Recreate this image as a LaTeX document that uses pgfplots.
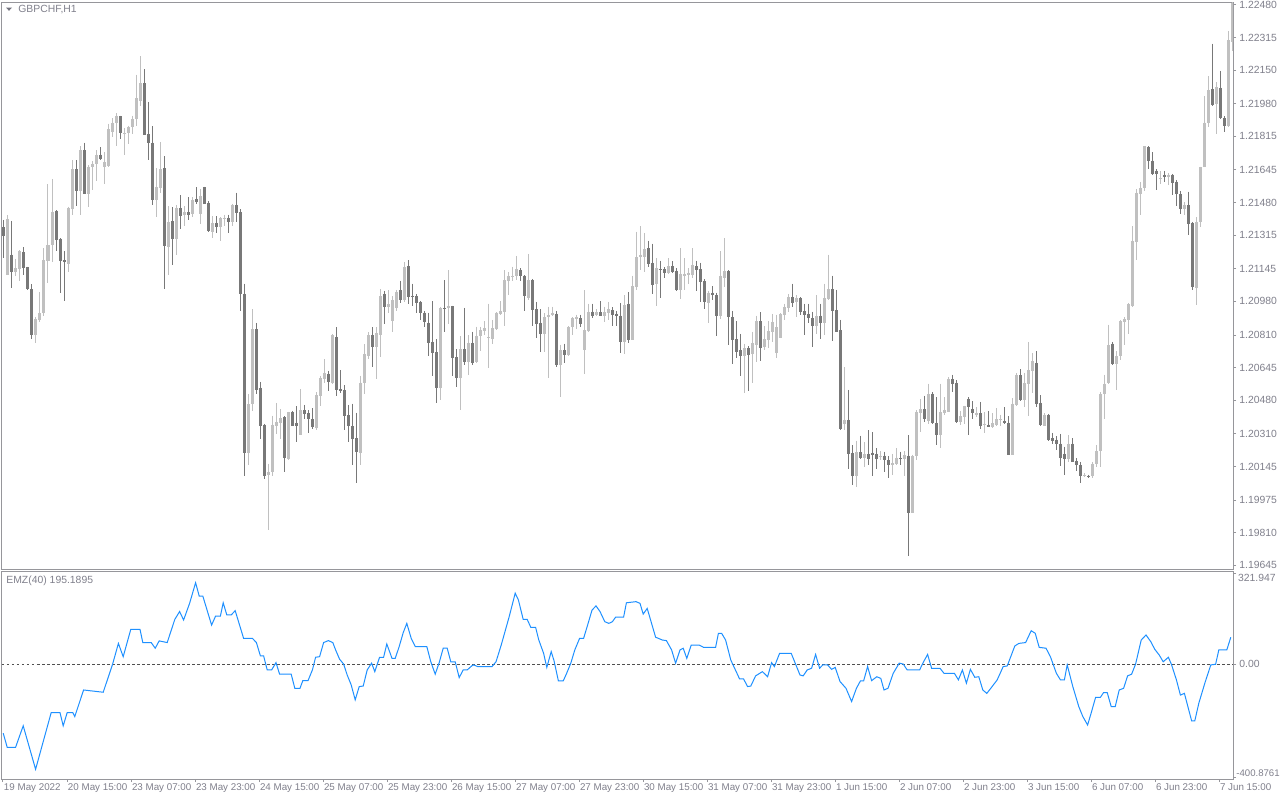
\documentclass[border=0pt]{standalone}
\usepackage{fontspec}
\setmainfont{Liberation Sans}
\usepackage{pgfplots}
\usepackage{pgfplotstable}
\pgfplotsset{compat=1.18}
\definecolor{bullc}{RGB}{192,192,192}
\definecolor{bearc}{RGB}{120,120,120}
\definecolor{framec}{RGB}{150,150,155}
\definecolor{labc}{RGB}{128,128,140}
\definecolor{emzc}{RGB}{30,144,255}
\definecolor{zeroc}{RGB}{80,80,80}
\pgfplotsset{candle/.style={only marks, mark=*, mark size=0pt, mark options={draw opacity=0, fill opacity=0}}}

\pgfplotstableread{
k o h l c
2 1.21116 1.21416 1.21112 1.21397
4 1.21131 1.21195 1.21107 1.21147
5 1.21143 1.21239 1.21085 1.21235
9 1.20809 1.20901 1.20770 1.20889
10 1.20886 1.21027 1.20877 1.20919
11 1.20919 1.21248 1.20904 1.21189
12 1.21184 1.21572 1.21075 1.21263
13 1.21267 1.21600 1.21180 1.21432
17 1.21171 1.21460 1.21131 1.21453
18 1.21447 1.21695 1.21419 1.21649
20 1.21539 1.21765 1.21419 1.21745
22 1.21524 1.21668 1.21460 1.21662
23 1.21662 1.21690 1.21545 1.21677
24 1.21677 1.21745 1.21591 1.21723
26 1.21662 1.21736 1.21576 1.21683
27 1.21664 1.21879 1.21659 1.21852
28 1.21839 1.21907 1.21811 1.21885
29 1.21885 1.21931 1.21765 1.21920
31 1.21828 1.21857 1.21723 1.21832
32 1.21830 1.21870 1.21775 1.21861
33 1.21861 1.21920 1.21828 1.21901
34 1.21903 1.22128 1.21870 1.22008
35 1.21995 1.22220 1.21971 1.22085
39 1.21493 1.21653 1.21407 1.21557
40 1.21554 1.21787 1.21530 1.21649
42 1.21257 1.21462 1.21116 1.21381
44 1.21296 1.21469 1.21217 1.21453
46 1.21419 1.21462 1.21364 1.21432
48 1.21423 1.21506 1.21407 1.21493
50 1.21423 1.21548 1.21373 1.21511
53 1.21333 1.21410 1.21300 1.21377
55 1.21359 1.21406 1.21287 1.21401
56 1.21396 1.21419 1.21364 1.21401
58 1.21383 1.21475 1.21364 1.21469
62 1.20214 1.20512 1.20153 1.20459
63 1.20459 1.20941 1.20426 1.20840
67 1.20100 1.20159 1.19824 1.20119
68 1.20119 1.20402 1.20095 1.20356
69 1.20349 1.20466 1.20310 1.20371
70 1.20365 1.20435 1.20282 1.20389
72 1.20183 1.20422 1.20177 1.20420
75 1.20306 1.20536 1.20303 1.20429
79 1.20339 1.20521 1.20328 1.20505
80 1.20503 1.20604 1.20453 1.20591
81 1.20586 1.20687 1.20569 1.20619
83 1.20569 1.20816 1.20564 1.20809
90 1.20214 1.20604 1.20153 1.20569
91 1.20569 1.20763 1.20509 1.20715
92 1.20705 1.20825 1.20687 1.20809
94 1.20748 1.20849 1.20586 1.20821
95 1.20812 1.21042 1.20698 1.21005
97 1.20950 1.21036 1.20919 1.20965
98 1.20882 1.21005 1.20827 1.20987
99 1.20947 1.21038 1.20932 1.21027
101 1.20987 1.21180 1.20978 1.21153
110 1.20544 1.20954 1.20481 1.20945
112 1.20947 1.21138 1.20867 1.20956
115 1.20595 1.20803 1.20431 1.20739
117 1.20674 1.20809 1.20610 1.20772
119 1.20674 1.20853 1.20670 1.20807
120 1.20803 1.20853 1.20729 1.20836
121 1.20831 1.20882 1.20809 1.20845
122 1.20796 1.20969 1.20641 1.20799
123 1.20788 1.20886 1.20766 1.20845
124 1.20840 1.20926 1.20836 1.20923
125 1.20917 1.20981 1.20913 1.20932
126 1.20928 1.21138 1.20858 1.21088
127 1.21085 1.21129 1.21011 1.21107
128 1.21103 1.21156 1.21085 1.21110
129 1.21110 1.21211 1.21088 1.21143
132 1.20996 1.21221 1.20987 1.21088
136 1.20816 1.20919 1.20724 1.20901
137 1.20899 1.20954 1.20591 1.20910
138 1.20910 1.20954 1.20908 1.20923
140 1.20659 1.20761 1.20494 1.20733
142 1.20707 1.20855 1.20705 1.20849
143 1.20849 1.20899 1.20809 1.20895
144 1.20891 1.20913 1.20840 1.20901
146 1.20735 1.21036 1.20614 1.20834
147 1.20831 1.20969 1.20827 1.20928
149 1.20910 1.20941 1.20904 1.20926
151 1.20908 1.20954 1.20877 1.20926
152 1.20923 1.20978 1.20886 1.20941
156 1.20775 1.21011 1.20715 1.20963
158 1.20785 1.21110 1.20785 1.21057
159 1.21051 1.21333 1.21037 1.21204
160 1.21204 1.21361 1.21138 1.21217
161 1.21204 1.21327 1.21129 1.21245
164 1.21070 1.21199 1.20956 1.21149
167 1.21125 1.21199 1.21121 1.21158
170 1.21039 1.21249 1.20993 1.21121
171 1.21107 1.21199 1.21039 1.21119
172 1.21116 1.21147 1.21066 1.21125
173 1.21116 1.21250 1.21097 1.21165
177 1.20972 1.21033 1.20871 1.21024
180 1.20908 1.21235 1.20889 1.21110
181 1.21097 1.21300 1.21051 1.21134
186 1.20702 1.20766 1.20518 1.20744
188 1.20715 1.20827 1.20569 1.20770
189 1.20761 1.20908 1.20674 1.20880
191 1.20748 1.20855 1.20735 1.20788
192 1.20785 1.20882 1.20742 1.20831
193 1.20827 1.20917 1.20775 1.20877
194 1.20720 1.20913 1.20693 1.20849
195 1.20794 1.20919 1.20794 1.20917
196 1.20910 1.20969 1.20886 1.20950
197 1.20947 1.21018 1.20928 1.21002
199 1.20978 1.21011 1.20901 1.20996
204 1.20855 1.21011 1.20816 1.20908
206 1.20871 1.21070 1.20812 1.20996
207 1.20993 1.21217 1.20987 1.21042
211 1.20361 1.20647 1.20330 1.20380
214 1.20098 1.20275 1.20039 1.20218
216 1.20190 1.20269 1.20141 1.20209
220 1.20196 1.20223 1.20177 1.20200
223 1.20153 1.20209 1.20104 1.20163
224 1.20159 1.20238 1.20153 1.20190
226 1.20181 1.20223 1.20095 1.20201
228 1.19911 1.20205 1.19907 1.20196
229 1.20196 1.20429 1.20177 1.20420
230 1.20417 1.20485 1.20321 1.20435
232 1.20376 1.20564 1.20361 1.20512
235 1.20306 1.20564 1.20236 1.20420
236 1.20413 1.20496 1.20407 1.20431
237 1.20422 1.20597 1.20420 1.20588
240 1.20371 1.20426 1.20356 1.20398
241 1.20393 1.20453 1.20361 1.20450
244 1.20407 1.20444 1.20393 1.20417
246 1.20358 1.20420 1.20315 1.20361
248 1.20347 1.20413 1.20337 1.20365
249 1.20356 1.20439 1.20349 1.20383
250 1.20380 1.20407 1.20349 1.20383
253 1.20205 1.20490 1.20201 1.20463
254 1.20457 1.20619 1.20450 1.20606
256 1.20481 1.20619 1.20448 1.20567
257 1.20564 1.20775 1.20398 1.20632
258 1.20628 1.20720 1.20518 1.20678
261 1.20352 1.20413 1.20349 1.20407
267 1.20183 1.20303 1.20168 1.20260
271 1.20095 1.20113 1.20089 1.20100
273 1.20095 1.20168 1.20085 1.20159
274 1.20159 1.20251 1.20144 1.20223
275 1.20223 1.20521 1.20141 1.20509
276 1.20509 1.20610 1.20385 1.20564
277 1.20567 1.20862 1.20564 1.20757
279 1.20665 1.20729 1.20533 1.20702
280 1.20702 1.20886 1.20683 1.20880
281 1.20877 1.20899 1.20761 1.20889
282 1.20886 1.20972 1.20816 1.20965
283 1.20959 1.21361 1.20950 1.21285
284 1.21281 1.21548 1.21189 1.21530
285 1.21524 1.21585 1.21419 1.21554
286 1.21554 1.21764 1.21539 1.21764
290 1.21598 1.21640 1.21576 1.21603
292 1.21607 1.21631 1.21567 1.21622
296 1.21447 1.21484 1.21419 1.21469
299 1.21048 1.21407 1.20963 1.21383
300 1.21383 1.21662 1.21355 1.21659
301 1.21659 1.22017 1.21659 1.21885
302 1.21885 1.22119 1.21861 1.22049
304 1.21981 1.22091 1.21828 1.22063
307 1.21867 1.22349 1.21861 1.22303
308 1.22293 1.22496 1.22247 1.22490
}\bulls

\pgfplotstableread{
k o h l c
1 1.21355 1.21392 1.21199 1.21313
3 1.21217 1.21388 1.21048 1.21131
6 1.21230 1.21254 1.21116 1.21149
7 1.21153 1.21156 1.21039 1.21042
8 1.21042 1.21066 1.20790 1.20809
14 1.21438 1.21441 1.21235 1.21291
15 1.21296 1.21300 1.21024 1.21186
16 1.21189 1.21235 1.20981 1.21180
19 1.21649 1.21695 1.21465 1.21539
21 1.21745 1.21784 1.21521 1.21524
25 1.21723 1.21760 1.21695 1.21701
30 1.21916 1.21920 1.21802 1.21833
36 1.22085 1.22155 1.21821 1.21824
37 1.21828 1.21990 1.21695 1.21784
38 1.21784 1.21867 1.21469 1.21493
41 1.21653 1.21714 1.21042 1.21259
43 1.21386 1.21456 1.21165 1.21296
45 1.21451 1.21517 1.21346 1.21414
47 1.21432 1.21506 1.21392 1.21419
49 1.21499 1.21557 1.21475 1.21484
51 1.21557 1.21561 1.21471 1.21475
52 1.21478 1.21487 1.21331 1.21337
54 1.21377 1.21410 1.21327 1.21359
57 1.21401 1.21419 1.21327 1.21383
59 1.21469 1.21530 1.21383 1.21429
60 1.21432 1.21447 1.20932 1.21018
61 1.21018 1.21070 1.20098 1.20214
64 1.20840 1.20871 1.20512 1.20533
65 1.20542 1.20573 1.20284 1.20352
66 1.20356 1.20361 1.20080 1.20098
71 1.20395 1.20399 1.20119 1.20187
73 1.20420 1.20426 1.20349 1.20352
74 1.20365 1.20450 1.20269 1.20352
76 1.20429 1.20457 1.20385 1.20411
77 1.20413 1.20429 1.20315 1.20385
78 1.20385 1.20439 1.20334 1.20343
82 1.20614 1.20628 1.20527 1.20573
84 1.20799 1.20849 1.20499 1.20533
85 1.20536 1.20632 1.20518 1.20527
86 1.20531 1.20555 1.20330 1.20402
87 1.20404 1.20457 1.20269 1.20349
88 1.20349 1.20463 1.20150 1.20284
89 1.20288 1.20417 1.20061 1.20220
93 1.20809 1.20849 1.20647 1.20748
96 1.21015 1.21033 1.20867 1.20950
100 1.21037 1.21085 1.20974 1.20987
102 1.21158 1.21189 1.20969 1.21002
103 1.21009 1.21070 1.20959 1.21002
104 1.21005 1.21018 1.20919 1.20972
105 1.20978 1.20983 1.20886 1.20923
106 1.20923 1.20932 1.20849 1.20877
107 1.20871 1.20923 1.20705 1.20770
108 1.20775 1.20981 1.20604 1.20720
109 1.20724 1.20788 1.20466 1.20540
111 1.20947 1.21088 1.20827 1.20941
113 1.20956 1.20959 1.20604 1.20696
114 1.20698 1.20739 1.20549 1.20595
116 1.20739 1.20947 1.20656 1.20674
118 1.20770 1.20827 1.20656 1.20670
130 1.21138 1.21149 1.21085 1.21107
131 1.21110 1.21112 1.20932 1.21005
133 1.21088 1.21094 1.20858 1.20937
134 1.20941 1.20978 1.20794 1.20867
135 1.20871 1.20941 1.20726 1.20816
139 1.20917 1.20932 1.20650 1.20659
141 1.20733 1.20766 1.20669 1.20707
145 1.20895 1.20913 1.20853 1.20867
148 1.20928 1.20969 1.20895 1.20904
150 1.20926 1.20981 1.20904 1.20908
153 1.20936 1.20950 1.20855 1.20910
154 1.20917 1.20932 1.20855 1.20904
155 1.20908 1.20972 1.20720 1.20775
157 1.20969 1.21027 1.20772 1.20785
162 1.21250 1.21287 1.21153 1.21171
163 1.21175 1.21272 1.21018 1.21064
165 1.21143 1.21186 1.20996 1.21140
166 1.21143 1.21153 1.21097 1.21125
168 1.21158 1.21184 1.21125 1.21131
169 1.21134 1.21147 1.21033 1.21039
174 1.21158 1.21186 1.21033 1.21140
175 1.21143 1.21176 1.20978 1.21079
176 1.21083 1.21092 1.20941 1.20978
178 1.21024 1.21057 1.20987 1.21011
179 1.21011 1.21024 1.20803 1.20908
182 1.21134 1.21138 1.20761 1.20899
183 1.20901 1.20932 1.20665 1.20785
184 1.20788 1.20880 1.20693 1.20726
185 1.20733 1.20816 1.20604 1.20702
187 1.20744 1.20753 1.20527 1.20707
190 1.20880 1.20926 1.20680 1.20744
198 1.21002 1.21070 1.20950 1.20972
200 1.20996 1.21000 1.20913 1.20928
201 1.20932 1.20969 1.20809 1.20910
202 1.20917 1.20969 1.20871 1.20895
203 1.20895 1.20928 1.20748 1.20855
205 1.20908 1.20969 1.20788 1.20871
208 1.21042 1.21110 1.20781 1.20932
209 1.20936 1.21038 1.20825 1.20827
210 1.20834 1.20886 1.20330 1.20334
212 1.20380 1.20533 1.20131 1.20209
213 1.20214 1.20251 1.20052 1.20098
215 1.20218 1.20301 1.20183 1.20190
217 1.20209 1.20328 1.20153 1.20183
218 1.20214 1.20319 1.20098 1.20205
219 1.20209 1.20238 1.20131 1.20183
221 1.20200 1.20220 1.20117 1.20177
222 1.20177 1.20196 1.20089 1.20153
225 1.20187 1.20220 1.20153 1.20183
227 1.20200 1.20303 1.19693 1.19911
231 1.20435 1.20503 1.20371 1.20383
233 1.20512 1.20521 1.20361 1.20365
234 1.20365 1.20496 1.20251 1.20306
238 1.20586 1.20610 1.20523 1.20564
239 1.20568 1.20582 1.20365 1.20371
242 1.20487 1.20496 1.20303 1.20444
243 1.20435 1.20475 1.20383 1.20413
245 1.20413 1.20472 1.20334 1.20352
247 1.20356 1.20426 1.20343 1.20347
251 1.20376 1.20444 1.20361 1.20365
252 1.20365 1.20398 1.20201 1.20205
255 1.20606 1.20637 1.20476 1.20481
259 1.20669 1.20729 1.20444 1.20463
260 1.20466 1.20505 1.20352 1.20356
262 1.20407 1.20411 1.20275 1.20279
263 1.20288 1.20315 1.20260 1.20273
264 1.20279 1.20297 1.20229 1.20260
265 1.20260 1.20310 1.20146 1.20187
266 1.20209 1.20245 1.20100 1.20183
268 1.20260 1.20288 1.20165 1.20168
269 1.20172 1.20187 1.20122 1.20150
270 1.20150 1.20168 1.20061 1.20095
272 1.20098 1.20104 1.20089 1.20095
278 1.20766 1.20775 1.20659 1.20665
287 1.21760 1.21764 1.21649 1.21692
288 1.21692 1.21736 1.21622 1.21625
289 1.21640 1.21649 1.21545 1.21625
291 1.21622 1.21640 1.21585 1.21607
293 1.21622 1.21625 1.21517 1.21581
294 1.21585 1.21594 1.21465 1.21521
295 1.21521 1.21539 1.21423 1.21447
297 1.21469 1.21535 1.21318 1.21373
298 1.21377 1.21383 1.21039 1.21051
303 1.22054 1.22284 1.21968 1.21975
305 1.22060 1.22146 1.21903 1.21907
306 1.21907 1.21916 1.21839 1.21867
}\bears

\begin{document}
\begin{tikzpicture}[font=\fontsize{5.2}{6.2}\selectfont]
\fill[white] (0,0) rectangle (640pt,400pt);
\path[use as bounding box] (0,0) rectangle (640pt,400pt);

\begin{axis}[
  at={(1pt,115.5pt)}, anchor=south west,
  scale only axis, width=615.5pt, height=283.5pt,
  xmin=0.5, xmax=308.25, ymin=1.19626, ymax=1.22495,
  axis line style={framec, line width=0.5pt},
  xtick=\empty,
  ytick={1.22480,1.22315,1.22150,1.21980,1.21815,1.21645,1.21480,1.21315,1.21145,1.20980,1.20810,1.20645,1.20480,1.20310,1.20145,1.19975,1.19810,1.19645},
  yticklabels={1.22480,1.22315,1.22150,1.21980,1.21815,1.21645,1.21480,1.21315,1.21145,1.20980,1.20810,1.20645,1.20480,1.20310,1.20145,1.19975,1.19810,1.19645},
  ytick pos=right, yticklabel pos=right,
  tick align=outside, major tick length=1.5pt,
  tick style={framec, line width=0.5pt},
  yticklabel style={anchor=west, inner sep=0pt, xshift=1.5pt, text=labc},
  scaled y ticks=false,
]
\addplot[candle, error bars/.cd, y dir=minus, y explicit, error mark=none, error bar style={bullc, line width=0.5pt, solid}]
  table[x=k, y=h, y error minus expr=\thisrow{h}-\thisrow{l}] {\bulls};
\addplot[candle, error bars/.cd, y dir=minus, y explicit, error mark=none, error bar style={bearc, line width=0.5pt, solid}]
  table[x=k, y=h, y error minus expr=\thisrow{h}-\thisrow{l}] {\bears};
\addplot[candle, error bars/.cd, y dir=minus, y explicit, error mark=none, error bar style={bullc, line width=1.5pt, solid}]
  table[x=k, y=c, y error minus expr=\thisrow{c}-\thisrow{o}] {\bulls};
\addplot[candle, error bars/.cd, y dir=minus, y explicit, error mark=none, error bar style={bearc, line width=1.5pt, solid}]
  table[x=k, y=o, y error minus expr=\thisrow{o}-\thisrow{c}] {\bears};
\end{axis}

\begin{axis}[
  at={(1pt,10.5pt)}, anchor=south west,
  scale only axis, width=615.5pt, height=104pt,
  xmin=0.5, xmax=308.25, ymin=-406.4, ymax=330.6,
  axis line style={framec, line width=0.5pt},
  xtick={0.75,16.75,...,304.75},
  xticklabels={19 May 2022,20 May 15:00,23 May 07:00,23 May 23:00,24 May 15:00,25 May 07:00,25 May 23:00,26 May 15:00,27 May 07:00,27 May 23:00,30 May 15:00,31 May 07:00,31 May 23:00,1 Jun 15:00,2 Jun 07:00,2 Jun 23:00,3 Jun 15:00,6 Jun 07:00,6 Jun 23:00,7 Jun 15:00},
  xtick pos=bottom,
  xticklabel style={anchor=north west, inner sep=0pt, xshift=0.3pt, yshift=-0.8pt, text=labc, font=\fontsize{4.9}{6}\selectfont},
  ytick={321.947,0,-400.8761},
  yticklabels={\relax,0.00,\relax},
  ytick pos=right, yticklabel pos=right,
  yticklabel style={anchor=west, inner sep=0pt, xshift=1.5pt, text=labc},
  tick align=outside, major tick length=1.5pt,
  tick style={framec, line width=0.5pt},
]
\addplot[zeroc, line width=0.5pt, dash pattern=on 1.25pt off 1.25pt] coordinates {(0.5,0) (308.25,0)};
\addplot[emzc, line width=0.5pt] coordinates {
(0.8,-244) (1.8,-294) (3.9,-294) (5.8,-218) (8.9,-372) (12.8,-171) (15,-171) (15.8,-218) (16.8,-171) (18.2,-171) (18.7,-185) (20.9,-91) (25.8,-99) (28.1,-2) (29.6,74) (30.8,27) (32.7,124) (35,124) (35.7,77) (37.8,77) (38.8,57) (39.8,83) (41.8,77) (43.7,159) (44.9,187) (45.9,157) (47.4,216) (48.9,289) (49.8,242) (50.7,242) (52.9,139) (53.9,171) (55.1,171) (55.8,218) (56.7,175) (57.8,175) (58.8,190) (60.9,92) (63.1,92) (64.1,77) (65.1,30) (65.9,30) (66.8,-20) (67.9,-20) (69,6) (69.9,-35) (72.8,-35) (73.7,-85) (75,-85) (75.7,-58) (77,-58) (78.1,-20) (78.9,25) (79.9,27) (80.9,77) (82.1,84) (83.2,77) (83.9,51) (84.9,18) (85.9,1) (86.8,-38) (87.8,-73) (88.8,-126) (89.8,-79) (90.8,-77) (91.8,-20) (92.9,4) (93.7,-26) (94.9,25) (95.9,25) (96.7,72) (98,21) (98.8,21) (99.8,63) (100.8,112) (101.7,145) (102.8,92) (103.8,63) (106.7,63) (107.7,9) (108.8,-35) (109.8,6) (110.8,57) (111.8,57) (112.7,9) (113.8,9) (114.8,-47) (115.8,-20) (116.8,-20) (117.9,-6) (118.4,-2) (119.4,-8) (123,-8) (124,9) (125.3,68) (127.3,169) (128.8,252) (129.6,228) (130.8,159) (131.8,159) (132.7,131) (133.9,131) (134.7,86) (135.9,39) (136.7,-11) (137.8,45) (138.5,13) (139.6,-59) (140.8,-59) (141.6,-34) (142.7,4) (143.7,51) (144.9,92) (145.9,92) (146.9,139) (148,192) (149,207) (150,187) (151.2,151) (152.2,145) (153.1,151) (153.9,167) (155.9,167) (156.6,218) (159,222) (160,216) (160.8,178) (161.8,198) (163.9,96) (165.6,86) (166.6,84) (167.9,51) (168.9,4) (170,51) (170.8,57) (171.7,21) (172.8,68) (174.8,68) (175.9,60) (178.9,60) (179.6,110) (180.4,110) (181.4,86) (182.7,15) (184.9,-52) (185.9,-52) (186.9,-79) (187.7,-77) (188.9,-41) (190.6,-26) (191.9,-44) (192.9,6) (193.6,-8) (194.9,39) (197.8,39) (198.8,4) (200,-38) (200.8,-41) (201.8,-20) (202.9,-14) (203.9,35) (204.9,-14) (205.7,-2) (206.9,-2) (207.9,-18) (208.8,-11) (210,-61) (211.5,-85) (212.9,-132) (214.1,-85) (215.1,-59) (215.9,-59) (216.9,-8) (217.9,-58) (219.2,-44) (220.2,-50) (221,-91) (222,-85) (223.3,-32) (224.8,4) (225.8,1) (226.8,-20) (229.9,-20) (230.9,9) (231.9,35) (232.9,-14) (235,-14) (236,-32) (238.6,-32) (239.6,-55) (240.6,-20) (241.6,-67) (242.6,-18) (243.7,-46) (244.7,-44) (245.7,-91) (246.7,-103) (247.7,-85) (249.3,-55) (250.8,-8) (251.8,-6) (253.7,65) (254.7,74) (256.4,77) (257.8,119) (258.8,110) (259.8,60) (261.5,57) (262.6,27) (264.1,-32) (265.1,-55) (266.1,-55) (266.8,-2) (268.2,-79) (269.7,-150) (270.7,-185) (271.9,-215) (272.7,-177) (273.9,-117) (275.1,-117) (275.9,-100) (276.8,-100) (277.8,-150) (278.8,-150) (279.8,-91) (280.9,-85) (281.9,-41) (282.9,-35) (283.9,1) (285.3,86) (286.5,104) (287.7,80) (288.7,53) (289.8,33) (290.8,9) (292.1,25) (292.9,-2) (294.1,-55) (295.1,-109) (296.1,-103) (297.9,-200) (298.7,-200) (299.7,-138) (301.2,-67) (302.7,-2) (303.9,0) (304.7,51) (306.7,51) (307.7,96)
};
\end{axis}

\fill[labc!90!black] (3pt,396.2pt) -- (6pt,396.2pt) -- (4.5pt,394.6pt) -- cycle;
\node[anchor=west, inner sep=0pt, text=labc] at (9pt,395.2pt) {GBPCHF,H1};
\node[anchor=west, inner sep=0pt, text=labc] at (3pt,109.5pt) {EMZ(40) 195.1895};
\node[anchor=west, inner sep=0pt, text=labc] at (618.8pt,111pt) {321.947};
\node[anchor=west, inner sep=0pt, text=labc, font=\fontsize{4.8}{6}\selectfont] at (618pt,13.5pt) {-400.8761};
\end{tikzpicture}
\end{document}
